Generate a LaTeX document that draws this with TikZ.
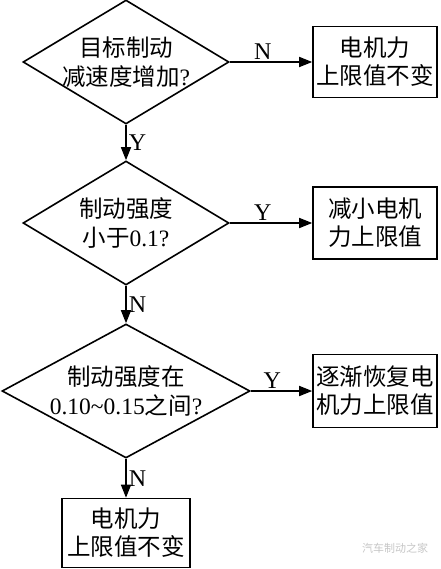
\documentclass[tikz,border=0pt]{standalone}
\usepackage{fontspec}
\setmainfont{Liberation Serif}
\newfontfamily\cjk{Noto Sans CJK SC}
\usetikzlibrary{arrows.meta,positioning,shapes.geometric}

\begin{document}
\begin{tikzpicture}[x=1pt, y=1pt,
    decis/.style={draw, line width=1.6pt, diamond, inner sep=-20pt,
      minimum width=206pt, minimum height=124pt,
      align=center, font=\fontsize{23.5}{29}\selectfont},
    actbox/.style={draw, line width=1.6pt, rectangle, inner sep=0pt,
      minimum width=124pt, minimum height=72pt,
      align=center, font=\fontsize{23.5}{28}\selectfont},
    arr/.style={-{Triangle[length=13pt, width=10pt]}, line width=1.6pt},
    yn/.style={font=\fontsize{24}{24}\selectfont, inner sep=2pt}]
  \useasboundingbox (0,0) rectangle (440,-569);
  % --- Decisions ---
  \node[decis] (incr) at (126,-62)
    {{\cjk 目标制动}\\{\cjk 减速度增加}?};
  \node[decis] (low) at (126,-223)
    {{\cjk 制动强度}\\{\cjk 小于}0.1?};
  \node[decis, minimum width=248pt, minimum height=134pt] (mid) at (126,-391)
    {{\cjk 制动强度在}\\0.10\textasciitilde0.15{\cjk 之间}?};
  % --- Actions ---
  \node[actbox, minimum height=71pt] (keep) at (375,-62)
    {{\cjk 电机力}\\{\cjk 上限值不变}};
  \node[actbox] (cut) at (375,-223)
    {{\cjk 减小电机}\\{\cjk 力上限值}};
  \node[actbox, minimum height=73pt] (rest) at (375,-391)
    {{\cjk 逐渐恢复电}\\{\cjk 机力上限值}};
  \node[actbox, minimum width=128pt, minimum height=69pt] (hold) at (126,-533)
    {{\cjk 电机力}\\{\cjk 上限值不变}};
  % --- Arrows ---
  \draw[arr] (incr) -- node[yn, above, pos=0.4] {N} (keep);
  \draw[arr] (incr) -- node[yn, right] {Y} (low);
  \draw[arr] (low)  -- node[yn, above, pos=0.4] {Y} (cut);
  \draw[arr] (low)  -- node[yn, right] {N} (mid);
  \draw[arr] (mid)  -- node[yn, above, pos=0.35] {Y} (rest);
  \draw[arr] (mid)  -- node[yn, right] {N} (hold);
  % --- Watermark ---
  \node[font=\fontsize{11}{11}\cjk, text=gray!45, inner sep=0pt] (mark)
    at (395,-548) {汽车制动之家};
\end{tikzpicture}
\end{document}
